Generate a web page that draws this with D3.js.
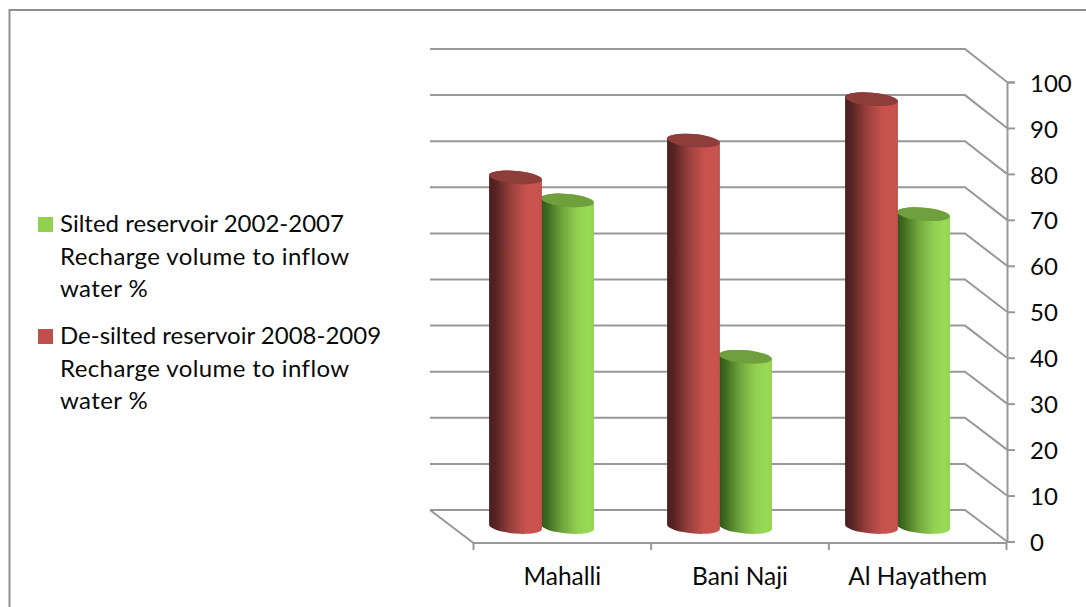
<!DOCTYPE html>
<html>
<head>
<meta charset="utf-8">
<script src="https://cdn.jsdelivr.net/npm/d3@7/dist/d3.min.js"></script>
<style>
  html, body { margin: 0; padding: 0; background: #fff; }
  svg { display: block; }
  text { font-family: Lato, "Open Sans", sans-serif; fill: #0a0a0a; }
</style>
</head>
<body>
<svg id="chart" width="1086" height="607"></svg>
<script>
// Reservoir recharge: two series per site, drawn as cylinders in a 3D-style box
const categories = ["Mahalli", "Bani Naji", "Al Hayathem"];
const seriesNames = ["silted", "desilted"];
const silted = [71, 37, 68];
const desilted = [76, 84, 93];
const tickValues = [0, 10, 20, 30, 40, 50, 60, 70, 80, 90, 100];
const legendLines = [
  ["Silted reservoir 2002-2007", "Recharge volume to inflow", "water %"],
  ["De-silted reservoir 2008-2009", "Recharge volume to inflow", "water %"]
];
const swatchColors = ["#92d050", "#c0504d"];

const width = 1086, height = 607;
const svg = d3.select("#chart");
const GRID = "#989898";

// Three depth planes of the box, each with its own value scale
const yFront = d3.scaleLinear().domain([0, 100]).range([541.5, 82]);
const yBack = d3.scaleLinear().domain([0, 100]).range([510, 49]);
const yMid = d3.scaleLinear().domain([0, 100]).range([527, 67]);

const xFront = d3.scaleBand().domain(categories).range([473.5, 1006.5]);
const xMid = d3.scaleBand().domain(categories).range([453, 987]);
const xSeries = d3.scaleBand().domain(seriesNames).range([-52.5, 51.5]);

const backLeft = 430, backRight = 965;

// Cylinder shading
const defs = svg.append("defs");
function shade(id, stops) {
  const g = defs.append("linearGradient").attr("id", id)
    .attr("x1", 0).attr("x2", 1).attr("y1", 0).attr("y2", 0);
  stops.forEach(([o, c]) => g.append("stop").attr("offset", o).attr("stop-color", c));
}
shade("redBody", [[0, "#4a1f1e"], [0.12, "#552322"], [0.4, "#973f3c"], [0.7, "#c7524e"], [0.92, "#c9544f"], [1, "#bf504c"]]);
shade("greenBody", [[0, "#34551a"], [0.12, "#406a20"], [0.4, "#70a63c"], [0.7, "#93d152"], [0.92, "#98db55"], [1, "#90cf50"]]);

// Chart frame: only the top and left edges are visible
svg.append("path")
  .attr("d", d3.line()([[9.5, height], [9.5, 10], [width, 10]]))
  .attr("fill", "none").attr("stroke", "#8f8f8f").attr("stroke-width", 2);

// Gridlines along the back wall, turning forward along the right wall
const grid = svg.append("g").attr("fill", "none").attr("stroke", GRID).attr("stroke-width", 2);
tickValues.forEach(v => {
  grid.append("path").attr("d", d3.line()([
    [backLeft, yBack(v)], [backRight, yBack(v)], [1007, yFront(v)]
  ]));
});

// Floor edge on the left and along the front
grid.append("path").attr("d", d3.line()([
  [backLeft, yBack(0)], [473.5, 543], [1007, 543]
]));

// Value axis
const yAxis = svg.append("g")
  .attr("transform", "translate(1007,0)")
  .call(d3.axisRight(yFront).tickValues(tickValues).tickSizeOuter(0).tickSize(8).tickPadding(15));
yAxis.selectAll("path, line").attr("stroke", GRID).attr("stroke-width", 2);
yAxis.selectAll("text").style("font-size", "24px").attr("fill", "#0a0a0a").attr("dy", "0.38em");

// Category axis, ticks on the band edges
const xAxis = svg.append("g").attr("transform", "translate(0,543)");
const edges = [...categories.map(c => xFront(c)), xFront.range()[1]];
xAxis.selectAll("line").data(edges).join("line")
  .attr("x1", d => d).attr("x2", d => d).attr("y1", 0).attr("y2", 7)
  .attr("stroke", GRID).attr("stroke-width", 2);
xAxis.selectAll("text").data(categories).join("text")
  .attr("x", d => xFront(d) + xFront.bandwidth() / 2)
  .attr("y", 42)
  .attr("text-anchor", "middle")
  .style("font-size", "24.5px")
  .text(d => d);

// One cylinder: body with a rounded foot, then the lit cap on top
const RX = 26.5, RY = 6.5, TILT = 5;
function cylinder(g, cx, value, body, cap) {
  const t = TILT * Math.PI / 180;
  const dx = RX * Math.cos(t), dy = RX * Math.sin(t);
  const yT = yMid(value), yB = yMid(0);
  const d = `M${cx - dx},${yT - dy} L${cx - dx},${yB - dy} ` +
    `A${RX},${RY} ${TILT} 0 0 ${cx + dx},${yB + dy} ` +
    `L${cx + dx},${yT + dy} ` +
    `A${RX},${RY} ${TILT} 0 0 ${cx - dx},${yT - dy} Z`;
  g.append("path").attr("d", d).attr("fill", `url(#${body})`);
  g.append("ellipse")
    .attr("rx", RX).attr("ry", RY)
    .attr("transform", `translate(${cx},${yT}) rotate(${TILT})`)
    .attr("fill", cap);
}

// Green sits behind red, so it is drawn first within each site
const bars = svg.append("g");
categories.forEach((c, i) => {
  const centre = xMid(c) + xMid.bandwidth() / 2;
  cylinder(bars, centre + xSeries("desilted") + xSeries.bandwidth() / 2, silted[i], "greenBody", "#70a03d");
  cylinder(bars, centre + xSeries("silted") + xSeries.bandwidth() / 2, desilted[i], "redBody", "#8f3d3b");
});

// Legend
const legendTop = [232, 344];
legendLines.forEach((lines, i) => {
  svg.append("rect")
    .attr("x", 38).attr("y", legendTop[i] - 15)
    .attr("width", 15).attr("height", 15)
    .attr("fill", swatchColors[i]);
  lines.forEach((line, j) => {
    svg.append("text")
      .attr("x", 60).attr("y", legendTop[i] + j * 32.7)
      .style("font-size", "24px")
      .style("letter-spacing", j > 0 ? "0.4px" : "0")
      .text(line);
  });
});
</script>
</body>
</html>
